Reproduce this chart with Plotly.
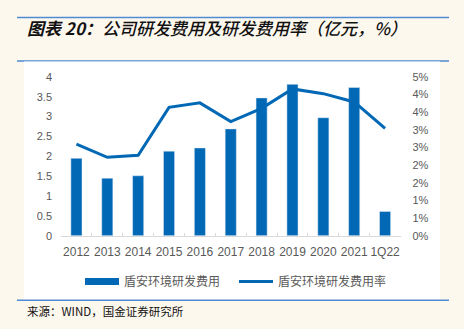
import plotly.graph_objects as go

W, H = 464, 329

categories = ["2012", "2013", "2014", "2015", "2016", "2017", "2018", "2019", "2020", "2021", "1Q22"]
rd_expense = [1.95, 1.45, 1.51, 2.13, 2.21, 2.69, 3.47, 3.81, 2.97, 3.73, 0.61]
rd_ratio = [2.88, 2.47, 2.53, 4.04, 4.18, 3.59, 4.01, 4.62, 4.47, 4.21, 3.38]
left_ticks = [0, 0.5, 1, 1.5, 2, 2.5, 3, 3.5, 4]
left_ticktext = ["0", "0.5", "1", "1.5", "2", "2.5", "3", "3.5", "4"]
right_ticktext = ["0%", "1%", "1%", "2%", "2%", "3%", "3%", "4%", "4%", "5%"]
right_max = 5

name_bar = "盾安环境研发费用"
name_line = "盾安环境研发费用率"
title_head = "图表 20："
title_body = "公司研发费用及研发费用率（亿元，%）"
source_text = "来源：WIND，国金证券研究所"

BLUE = "#0068b5"
GREY = "#595959"
CREAM = "#fdf8ee"
RULE = "#4f8ad2"

def px(x):
    return x / W

def py(y):
    return 1 - y / H

fig = go.Figure()
fig.add_trace(go.Bar(x=categories, y=rd_expense, marker_color=BLUE, name=name_bar,
                     showlegend=False, yaxis="y"))
# legend entry mimicking the flat bar swatch
fig.add_trace(go.Scatter(x=[None], y=[None], mode="lines", line=dict(color=BLUE, width=7),
                         name=name_bar, yaxis="y"))
fig.add_trace(go.Scatter(x=categories, y=rd_ratio, mode="lines", line=dict(color=BLUE, width=3),
                         name=name_line, yaxis="y2"))

n = len(right_ticktext) - 1
right_vals = [right_max * i / n for i in range(n + 1)]

fig.update_layout(
    width=W, height=H,
    margin=dict(l=0, r=0, t=0, b=0),
    paper_bgcolor=CREAM,
    plot_bgcolor="rgba(0,0,0,0)",
    bargap=0.64,
    font=dict(family="Liberation Sans, Arial, Noto Sans CJK SC", color=GREY, size=12),
    xaxis=dict(domain=[px(61), px(400.5)], showline=True, linecolor="#d9d9d9", linewidth=1,
               ticks="inside", tickson="boundaries", ticklen=3, tickcolor="#d9d9d9",
               tickangle=0, tickfont=dict(size=12, color=GREY), ticklabelstandoff=5,
               showgrid=False),
    yaxis=dict(domain=[py(238.5), py(73.5)], range=[0, 4], tickvals=left_ticks,
               ticktext=left_ticktext, showgrid=False, zeroline=False, showline=False,
               tickfont=dict(size=11, color=GREY), ticklabelstandoff=8),
    yaxis2=dict(domain=[py(238.5), py(73.5)], range=[0, right_max], overlaying="y", side="right",
                tickvals=right_vals, ticktext=right_ticktext, showgrid=False, zeroline=False,
                showline=False, tickfont=dict(size=11, color=GREY), ticklabelstandoff=11,
                anchor="x"),
    legend=dict(orientation="h", x=px(80), y=py(286), xanchor="left", yanchor="middle",
                font=dict(size=12, color=GREY, family="Noto Sans CJK SC"),
                bgcolor="rgba(0,0,0,0)", itemwidth=34, entrywidth=105, entrywidthmode="pixels",
                tracegroupgap=0),
    showlegend=True,
    shapes=[
        dict(type="line", xref="paper", yref="paper", x0=px(17), x1=px(449), y0=py(12), y1=py(12),
             line=dict(color=RULE, width=1.5), layer="below"),
        dict(type="line", xref="paper", yref="paper", x0=px(17), x1=px(449), y0=py(57), y1=py(57),
             line=dict(color=RULE, width=1.5), layer="below"),
        dict(type="rect", xref="paper", yref="paper", x0=px(24), x1=px(440), y0=py(305), y1=py(57.5),
             fillcolor="white", line=dict(width=0), layer="below"),
        dict(type="line", xref="paper", yref="paper", x0=px(17), x1=px(449), y0=py(305.5), y1=py(305.5),
             line=dict(color=RULE, width=1.5), layer="below"),
    ],
    annotations=[
        dict(text="<i><b>" + title_head + "</b>" + title_body + "</i>", xref="paper", yref="paper",
             x=px(25), y=py(22), xanchor="left", yanchor="middle", showarrow=False,
             font=dict(size=17, color="#111111", family="Noto Sans CJK SC", weight=500)),
        dict(text=source_text, xref="paper", yref="paper", x=px(25), y=py(316.5),
             xanchor="left", yanchor="middle", showarrow=False,
             font=dict(size=11.5, color="#111111", family="Noto Sans CJK SC")),
    ],
)

fig.write_html("out.html")
